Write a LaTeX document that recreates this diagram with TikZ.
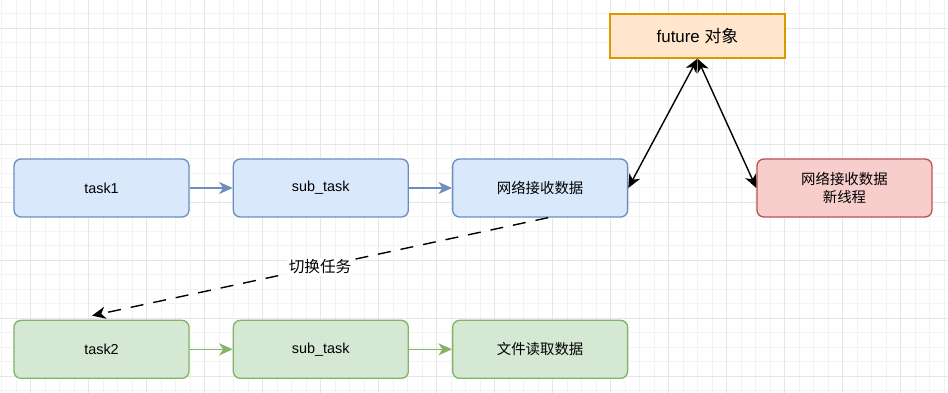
\documentclass[tikz,border=0pt]{standalone}
\usepackage{fontspec}
\setmainfont{Liberation Sans}
\newfontfamily\cjk{Noto Sans CJK SC}
\usetikzlibrary{arrows.meta,positioning}

\definecolor{bluefill}{HTML}{DAE8FC}
\definecolor{blueline}{HTML}{6C8EBF}
\definecolor{greenfill}{HTML}{D5E8D4}
\definecolor{greenline}{HTML}{82B366}
\definecolor{orangefill}{HTML}{FFE6CC}
\definecolor{orangeline}{HTML}{D79B00}
\definecolor{redfill}{HTML}{F8CECC}
\definecolor{redline}{HTML}{B85450}
\definecolor{gridminor}{HTML}{F3F3F3}
\definecolor{gridmajor}{HTML}{E6E6E6}

\begin{document}
\begin{tikzpicture}[
    node distance=2.04cm and 0.86cm,
    taskbox/.style={draw=#1line, fill=#1fill, rounded corners=0.14cm, line width=0.75pt,
                    minimum width=3.5cm, minimum height=1.16cm, align=center,
                    font=\fontsize{8.2}{9.8}\selectfont},
    futurebox/.style={draw=orangeline, fill=orangefill, line width=0.75pt,
                      minimum width=3.5cm, minimum height=0.88cm,
                      font=\fontsize{9.6}{11}\selectfont},
    arrow/.style={-{Stealth[length=2.7mm, width=2.4mm, inset=0.8mm]}, line width=0.8pt},
    twoway/.style={{Stealth[length=2.7mm, width=2.4mm, inset=0.8mm]}-{Stealth[length=2.7mm, width=2.4mm, inset=0.8mm]},
                   line width=0.8pt},
    switchlabel/.style={fill=white, inner sep=1pt, font=\cjk\fontsize{8.9}{10}\selectfont},
]

% Canvas and grid
\useasboundingbox (0,0) rectangle (18.96,-7.84);
\fill[white] (0,0) rectangle (18.96,-7.84);
\begin{scope}
  \clip (0,0) rectangle (18.96,-7.84);
  \draw[gridminor, line width=0.4pt, shift={(0.614,-0.566)}, step=0.29cm] (-1.16,-8.12) grid (18.56,1.16);
  \draw[gridmajor, line width=0.4pt, shift={(0.614,-0.566)}, step=1.16cm] (-1.16,-8.12) grid (18.56,1.16);
\end{scope}

% Task 1 chain
\node[taskbox=blue] (task1) at (2.03,-3.76) {task1};
\node[taskbox=blue, right=of task1]    (subtask1) {sub\_task};
\node[taskbox=blue, right=of subtask1] (netrecv)  {\cjk 网络接收数据};

% Task 2 chain
\node[taskbox=green, below=of task1]    (task2)    {task2};
\node[taskbox=green, right=of task2]    (subtask2) {sub\_task};
\node[taskbox=green, right=of subtask2] (fileread) {\cjk 文件读取数据};

% Future and thread
\node[futurebox] (future) at (13.95,-0.72) {future {\cjk 对象}};
\node[taskbox=red, right=2.56cm of netrecv] (netthread) {{\cjk 网络接收数据}\\{\cjk 新线程}};

% Arrows
\draw[arrow, blueline] (task1) -- (subtask1);
\draw[arrow, blueline] (subtask1) -- (netrecv);
\draw[arrow, greenline] (task2) -- (subtask2);
\draw[arrow, greenline] (subtask2) -- (fileread);

\draw[twoway] (future.south) -- (netrecv.east);
\draw[twoway] (future.south) -- (netthread.west);

% Switch to task 2
\draw[arrow, dash pattern=on 0.26cm off 0.2cm] ([xshift=0.16cm]netrecv.south)
    -- node[switchlabel] {切换任务} ([xshift=-0.19cm, yshift=0.08cm]task2.north);

\end{tikzpicture}
\end{document}
